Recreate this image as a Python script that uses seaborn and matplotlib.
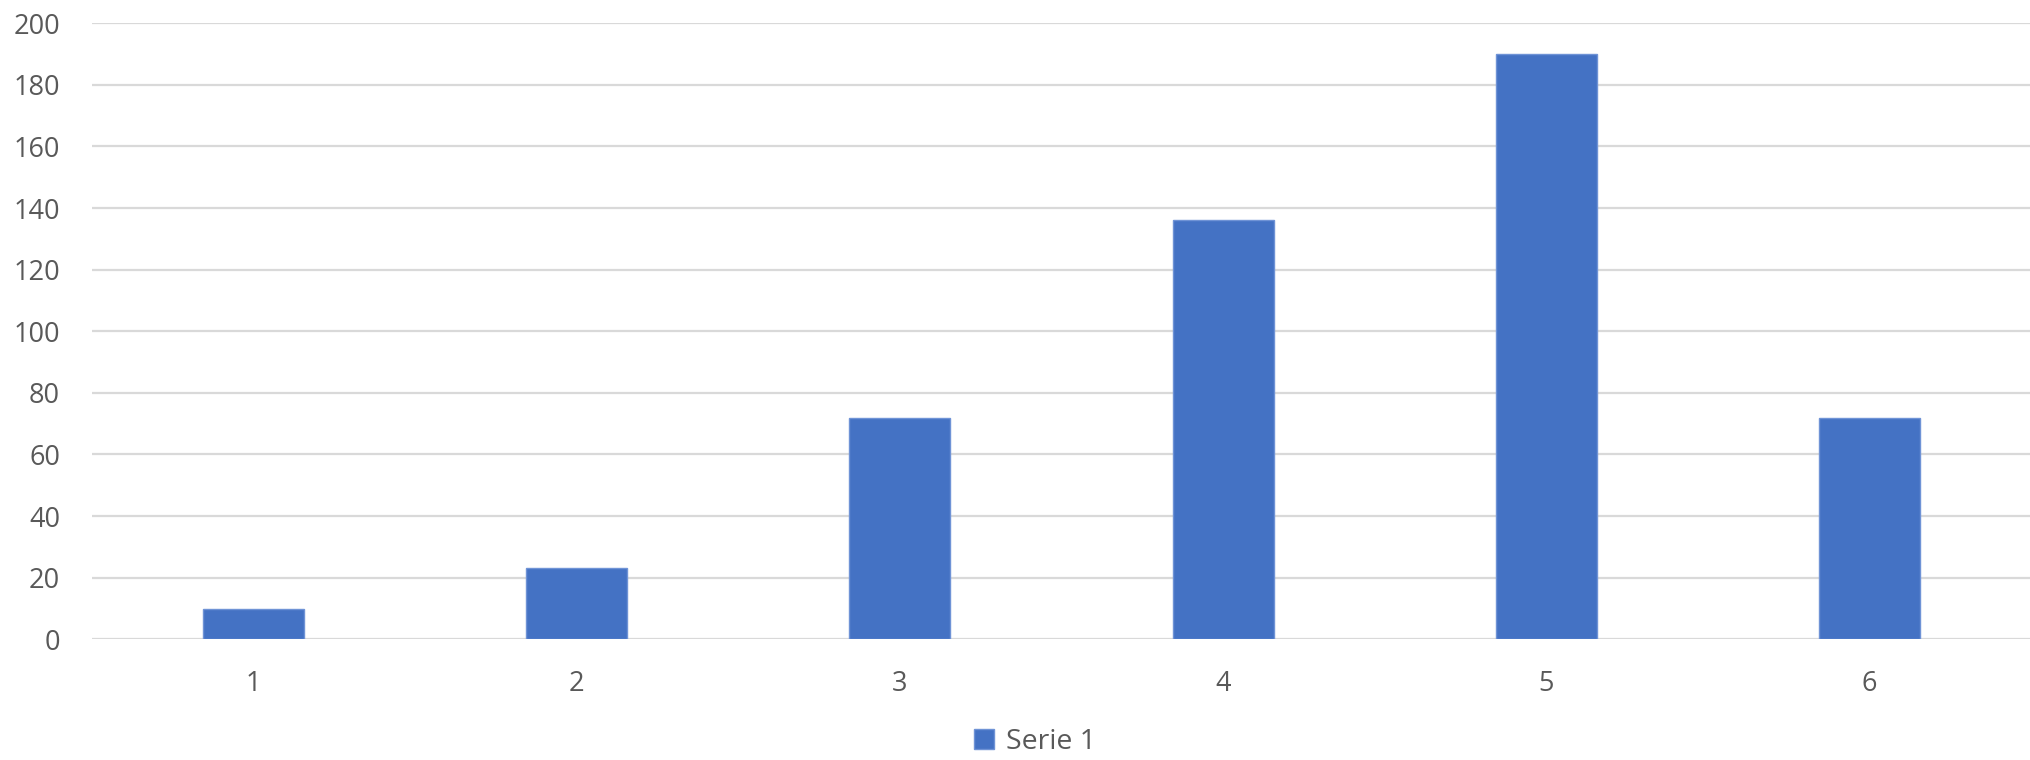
import matplotlib
matplotlib.use("Agg")
import matplotlib.pyplot as plt
import seaborn as sns
import pandas as pd

categories = ["1", "2", "3", "4", "5", "6"]
values = [10, 23, 72, 136, 190, 72]
series_name = "Serie 1"
y_ticks = [0, 20, 40, 60, 80, 100, 120, 140, 160, 180, 200]

sns.set_theme(style="white")
plt.rcParams['font.family'] = ['Open Sans', 'DejaVu Sans']

df = pd.DataFrame({"cat": categories, "val": values})

fig = plt.figure(figsize=(20.31, 7.6), dpi=100)
ax = fig.add_axes([92/2031, 1 - 639.3/760, 1 - 92/2031, (639.3 - 23.3)/760])

sns.barplot(data=df, x="cat", y="val", color="#4472C4", saturation=1,
            width=0.313, ax=ax, label=series_name, edgecolor="#6f93d6", linewidth=1)

ax.set_ylim(0, 200)
ax.set_xlim(-0.5, 5.5)
ax.set_yticks(y_ticks)
ax.yaxis.grid(True, color="#d9d9d9", linewidth=1.6)
ax.set_axisbelow(True)
for s in ax.spines.values():
    s.set_visible(False)
ax.set_xlabel("")
ax.set_ylabel("")
ax.tick_params(axis="y", length=0, pad=23, labelsize=19.5, labelcolor="#595959")
ax.tick_params(axis="x", length=0, pad=22, labelsize=19.5, labelcolor="#595959")

leg = ax.legend(loc="center", bbox_to_anchor=(1035/2031, 1 - 742/760), bbox_transform=fig.transFigure,
                frameon=False, fontsize=20.5, handlelength=0.7, handleheight=0.7,
                handletextpad=0.4, labelcolor="#595959")

fig.savefig("out.png", dpi=100)
